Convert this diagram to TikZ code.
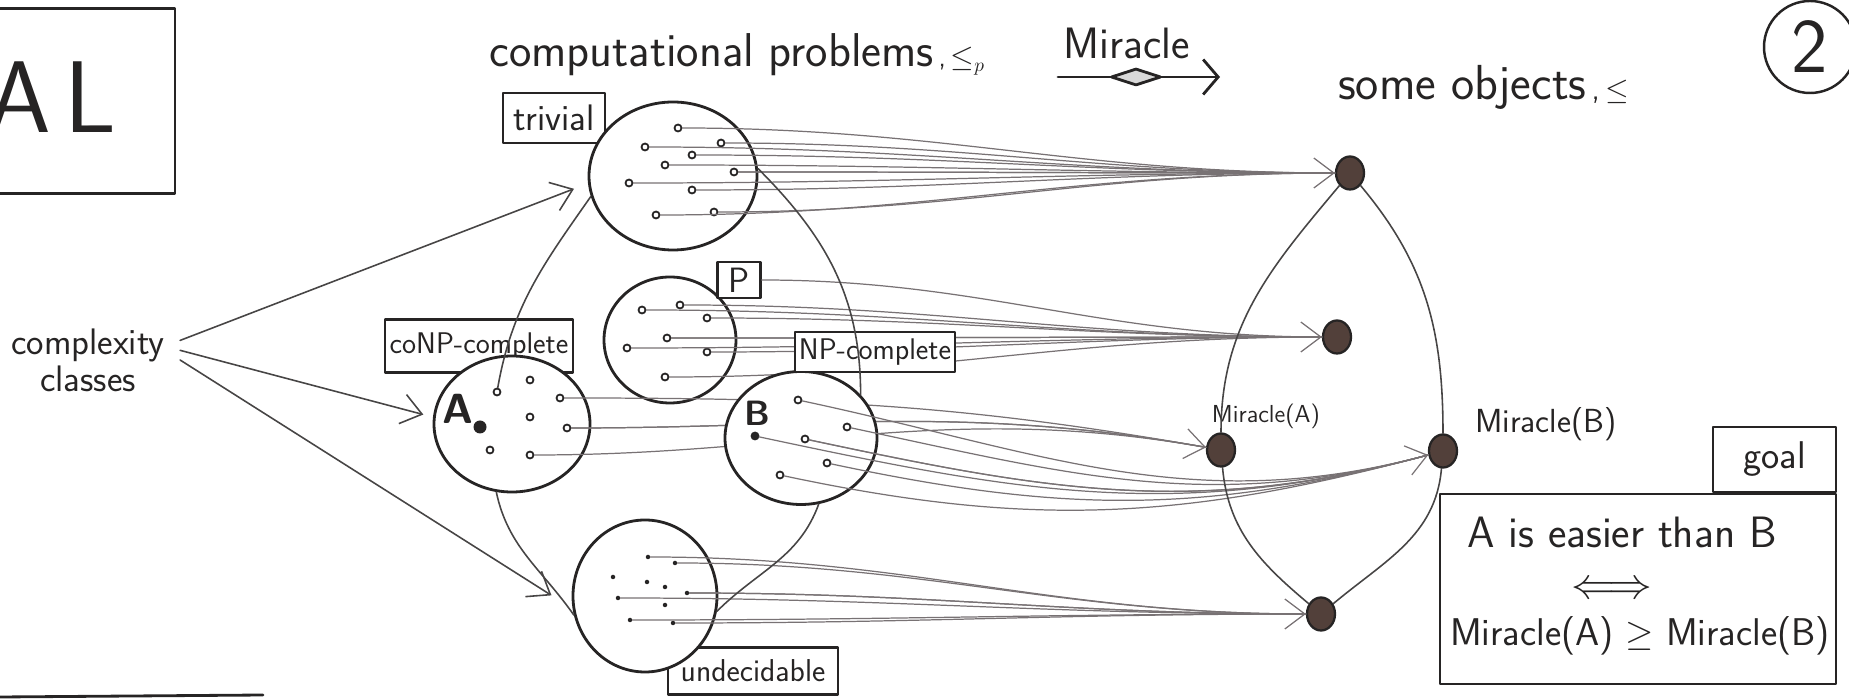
\documentclass[tikz,border=0pt]{standalone}
\usepackage{tikz}
\usetikzlibrary{shapes,arrows.meta}

\definecolor{pencil}{RGB}{120,114,116}
\definecolor{ink}{RGB}{38,36,36}
\definecolor{blot}{RGB}{82,64,58}

\tikzset{
  >={Straight Barb[length=4mm,width=6mm]},
  hand/.style={font=\sffamily\fontsize{#1}{#1}\selectfont, text=ink},
  letter/.style={font=\sffamily\bfseries\fontsize{#1}{#1}\selectfont, text=ink},
  blob/.style={ellipse, draw=ink, line width=1.6pt, fill=white, inner sep=0pt},
  tagbox/.style={rectangle, draw=ink, line width=1.5pt, fill=white, inner sep=0pt, hand=16},
  prob/.style={circle, draw=ink, line width=1pt, minimum size=1.4mm, inner sep=0pt},
  speck/.style={circle, fill=ink, minimum size=0.9mm, inner sep=0pt},
  obj/.style={ellipse, draw=ink, line width=1.3pt, fill=blot, minimum width=5.6mm, minimum height=6.6mm, inner sep=0pt},
  bundle/.style={draw=pencil, line width=0.7pt},
  order/.style={draw=ink!85, line width=0.9pt},
}

\begin{document}
\begin{tikzpicture}[x=0.2mm, y=-0.2mm, line cap=round, line join=round]
\useasboundingbox (0,0) rectangle (1849,700);

% page fragments on the left
\node[draw=ink, line width=1.5pt, minimum width=36mm, minimum height=37mm] (alframe) at (85,101) {};
\node[hand=58] (altext) at (52,97) {A\hspace{2.5mm}L};
\draw[ink, line width=1.6pt] (0,697) -- (263,695);

% headings
\node[hand=27, anchor=base west] (comp) at (483,67) {computational problems{\fontsize{16}{16}\selectfont\,,\,$\leq_{p}$}};
\node[hand=25] (miracle) at (1127,43) {Miracle};
\coordinate (wandL) at (1058,77);
\coordinate (wandR) at (1220,77);
\draw[ink, line width=1.6pt, -{Straight Barb[length=3mm,width=7mm]}] (wandL) -- (wandR);
\node[diamond, draw=ink, line width=1.6pt, fill=black!15, aspect=3, minimum width=10mm, minimum height=3.4mm, inner sep=0pt] (lens) at (1136,77) {};
\node[hand=28, anchor=base west] (objs) at (1332,100) {some objects{\fontsize{18}{18}\selectfont\,,\,$\leq$}};
\node[circle, draw=ink, line width=1.4pt, minimum size=18.4mm, inner sep=0pt, hand=44] (pagenum) at (1810,47) {2};

% objects on the right
\node[obj] (top) at (1350,173) {};
\node[obj] (pobj) at (1337,337) {};
\node[obj] (ma) at (1221,450) {};
\node[obj] (mb) at (1443,451) {};
\node[obj] (bot) at (1321,614) {};
\node[hand=14] (malabel) at (1266,416) {Miracle(A)};
\node[hand=19] (mblabel) at (1546,424) {Miracle(B)};

% labels behind the circles
\node[tagbox, minimum width=37.6mm, minimum height=10.6mm, hand=17] (cotag) at (479,346) {coNP-complete};
\node[tagbox, minimum width=34mm, minimum height=9.4mm, hand=18] (udtag) at (753,671) {undecidable};
\node[tagbox, minimum width=20.4mm, minimum height=10mm, hand=21] (trtag) at (554,118) {trivial};

% trivial
\node[blob, minimum width=33.6mm, minimum height=29.6mm] (tr) at (673,176) {};
\foreach \x/\y [count=\i] in {678/128, 645/147, 721/143, 692/155, 665/165, 734/172, 629/183, 692/190, 656/215, 714/212}
  \node[prob] (t\i) at (\x,\y) {};
\foreach \i in {1,...,10}
  \draw[bundle] (t\i) to[out=0, in=180] (top);
\draw[bundle, ->] (t6) to[out=0, in=180] (top);

% P
\node[blob, minimum width=26.4mm, minimum height=25.2mm] (pc) at (670,340) {};
\node[tagbox, minimum width=8.6mm, minimum height=7.2mm, hand=20] (ptag) at (739,280) {P};
\foreach \x/\y [count=\i] in {642/310, 680/305, 707/318, 667/338, 627/348, 707/352, 665/377}
  \node[prob] (p\i) at (\x,\y) {};
\foreach \i in {1,...,7}
  \draw[bundle] (p\i) to[out=0, in=180] (pobj);
\draw[bundle] (ptag) to[out=0, in=180] (pobj);
\draw[bundle, ->] (p4) to[out=0, in=180] (pobj);

% coNP-complete
\node[blob, minimum width=31.2mm, minimum height=27.2mm] (cn) at (512,424) {};
\foreach \x/\y [count=\i] in {497/392, 530/380, 560/398, 530/417, 567/428, 490/450, 530/455}
  \node[prob] (c\i) at (\x,\y) {};
\node[circle, fill=ink, minimum size=2.6mm, inner sep=0pt] (adot) at (480,427) {};
\node[letter=24] (alab) at (458,409) {A};
\foreach \i in {3,5,7}
  \draw[bundle] (c\i) to[out=0, in=170] (ma);
\draw[bundle, ->] (c5) to[out=0, in=170] (ma);

% NP-complete
\node[blob, minimum width=30.4mm, minimum height=26.6mm] (np) at (801,438) {};
\node[tagbox, minimum width=32mm, minimum height=8mm, hand=17] (nptag) at (875,352) {NP-complete};
\node[prob, fill=ink] (bdot) at (755,436) {};
\node[letter=20] (blab) at (757,413) {B};
\foreach \x/\y [count=\i] in {798/400, 805/439, 847/427, 827/463, 780/475}
  \node[prob] (n\i) at (\x,\y) {};
\foreach \n in {bdot,n1,n2,n3,n4,n5}
  \draw[bundle] (\n) to[out=-12, in=195] (mb);
\draw[bundle, ->] (n2) to[out=-12, in=195] (mb);

% undecidable
\node[blob, minimum width=28.8mm, minimum height=30.4mm] (ud) at (645,596) {};
\foreach \x/\y [count=\i] in {648/557, 675/563, 613/577, 647/582, 665/587, 687/593, 618/598, 665/605, 630/620, 673/623}
  \node[speck] (u\i) at (\x,\y) {};
\foreach \i in {1,2,6,7,9,10}
  \draw[bundle] (u\i) to[out=0, in=180] (bot);
\draw[bundle, ->] (u6) to[out=0, in=180] (bot);

% order of the classes
\draw[order] (tr.194) to[out=235, in=80] (c1);
\draw[order] (cn.257) to[out=-78, in=125] (ud.195);
\draw[order] (tr.5) to[out=-45, in=90] (np.36);
\draw[order] (np.285) to[out=-110, in=45] (ud.348);
% order of the objects
\draw[order] (top) to[out=-130, in=90] (ma);
\draw[order] (ma) to[out=-85, in=140] (bot);
\draw[order] (top) to[out=-50, in=90] (mb);
\draw[order] (mb) to[out=-95, in=40] (bot);

% complexity classes
\node[hand=21, align=center, inner xsep=3mm] (cc) at (88,360) {complexity\\classes};
\draw[order, ->, shorten >=3mm] (cc.12) -- (tr.185);
\draw[order, ->, shorten >=2mm] (cc.6) -- (cn.175);
\draw[order, ->, shorten >=5mm] (cc.0) -- (ud.190);

% goal
\node[draw=ink, line width=1.2pt, minimum width=79.2mm, minimum height=38mm] (goalbox) at (1638,589) {};
\node[tagbox, line width=1.2pt, minimum width=24.6mm, minimum height=13mm, hand=22, anchor=south east] (goaltab) at (goalbox.north east) {goal};
\node[hand=25, inner sep=0pt] (easier) at (1622,532) {A is easier than B};
\node[hand=24, inner sep=0pt] (iff) at (1612,590) {$\Longleftrightarrow$};
\node[hand=22, inner sep=0pt] (ineq) at (1640,636) {Miracle(A) $\geq$ Miracle(B)};
\end{tikzpicture}
\end{document}
